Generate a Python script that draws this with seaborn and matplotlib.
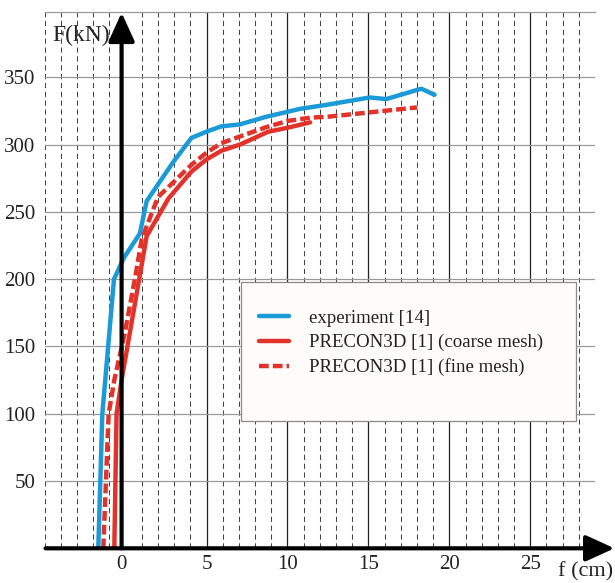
import pandas as pd
import matplotlib.pyplot as plt
from matplotlib.patches import Rectangle
import seaborn as sns

# experiment [14]
exp_f = [-1.69, -1.44, -0.72, -0.1, 0.88, 1.3, 2.94, 4.07, 5.0, 5.9, 7.06, 8.7, 10.76, 12.5, 15.08, 16.1, 18.27, 19.09]
exp_F = [0, 100, 200, 216, 234, 258, 287, 305, 309.6, 313.5, 315, 320.7, 326.5, 329.7, 335, 333.8, 341.5, 337]

# PRECON3D coarse mesh
coarse_f = [-0.7, -0.56, -0.25, 1.3, 2.65, 4.07, 5.0, 5.93, 7.06, 8.8, 10.0, 11.4]
coarse_F = [0, 100, 125, 232, 260, 280, 289, 295.5, 300, 309.5, 312.5, 316.5]

# PRECON3D fine mesh
fine_f = [-1.38, -1.05, -0.7, -0.05, 0.6, 1.0, 2.0, 4.07, 5.0, 5.9, 7.06, 8.7, 10.0, 11.4, 12.5, 18.0]
fine_F = [0, 100, 125, 160, 202, 230, 261, 285, 294, 301, 306, 313, 317.5, 320, 320.7, 327.6]

labels = ['experiment [14]', 'PRECON3D [1] (coarse mesh)', 'PRECON3D [1] (fine mesh)']
x_ticks = [5, 10, 15, 20, 25]
y_ticks = [50, 100, 150, 200, 250, 300, 350]

blue = '#1a9ad6'
red = '#e2322a'
axis_x = -0.25  # the drawn F axis sits a bit left of the 0 grid line

sns.set_theme(style='white')
plt.rcParams['font.family'] = ['Liberation Serif', 'DejaVu Serif']

fig = plt.figure(figsize=(6.15, 5.83), dpi=100)
ax = fig.add_axes([0.0727, 0.0595, 0.8948, 0.9199])

df_exp = pd.DataFrame({'f': exp_f, 'F': exp_F})
df_coarse = pd.DataFrame({'f': coarse_f, 'F': coarse_F})
df_fine = pd.DataFrame({'f': fine_f, 'F': fine_F})

# grid: dashed every cm, solid every 5 cm, grey every 50 kN
for v in range(-5, 30):
    if v % 5 == 0 and v > 0:
        ax.axvline(v, color='#222222', lw=0.9, zorder=1)
    elif v != 0:
        ax.axvline(v, color='#444444', lw=0.75, ls=(0, (5, 3.5)), zorder=1)
for h in y_ticks:
    ax.axhline(h, color='#9a9a9a', lw=0.9, zorder=1)

sns.lineplot(data=df_exp, x='f', y='F', ax=ax, color=blue, lw=3.2, sort=False,
             estimator=None, label=labels[0], zorder=4)
sns.lineplot(data=df_coarse, x='f', y='F', ax=ax, color=red, lw=3.2, sort=False,
             estimator=None, label=labels[1], zorder=3)
sns.lineplot(data=df_fine, x='f', y='F', ax=ax, color=red, lw=3.2, sort=False,
             estimator=None, label=labels[2], zorder=3, linestyle=(0, (2.2, 0.9)))

ax.set_xlim(-5, 29)
ax.set_ylim(0, 398.5)
ax.set_xticks([axis_x] + x_ticks)
ax.set_xticklabels(['0'] + [str(t) for t in x_ticks], fontsize=15)
ax.set_yticks(y_ticks)
ax.set_yticklabels([str(t) for t in y_ticks], fontsize=15)
ax.tick_params(axis='both', length=0, colors='#222222')
ax.tick_params(axis='y', pad=6.5)
ax.tick_params(axis='x', pad=4.5)
ax.set_xlabel('')
ax.set_ylabel('')

for side in ['left', 'right', 'bottom']:
    ax.spines[side].set_visible(False)
ax.spines['top'].set_color('#9a9a9a')
ax.spines['top'].set_linewidth(0.9)

# axis arrows
ax.annotate('', xy=(axis_x, 398), xytext=(axis_x, 0), annotation_clip=False,
            arrowprops=dict(arrowstyle='-|>,head_length=1.25,head_width=0.57',
                            mutation_scale=14, lw=3, color='black',
                            shrinkA=0, shrinkB=0), zorder=6)
ax.annotate('', xy=(30.2, 0), xytext=(-4.95, 0), annotation_clip=False,
            arrowprops=dict(arrowstyle='-|>,head_length=1.25,head_width=0.57',
                            mutation_scale=14, lw=3, color='black',
                            shrinkA=0, shrinkB=0), zorder=6)

ax.text(axis_x - 0.7, 381, 'F(kN)', fontsize=17, ha='right', va='center', color='#222222')
ax.text(26.7, -17.6, 'f (cm)', fontsize=16, ha='left', va='center', color='#222222',
        clip_on=False)

# legend box
ax.add_patch(Rectangle((0.392, 0.2779), 0.545, 0.2384, transform=fig.transFigure,
                       facecolor='#fdfcfb', edgecolor='#8a8a8a', lw=0.9, zorder=5,
                       clip_on=False))
leg = ax.legend(loc='center left', bbox_to_anchor=(0.4211, 0.4117),
                bbox_transform=fig.transFigure, frameon=False, fontsize=13.6,
                handlelength=1.6, handletextpad=1.05, labelspacing=0.38,
                borderpad=0, borderaxespad=0)
leg.set_zorder(7)
for t in leg.get_texts():
    t.set_color('#222222')

fig.savefig('out.png', dpi=100)
